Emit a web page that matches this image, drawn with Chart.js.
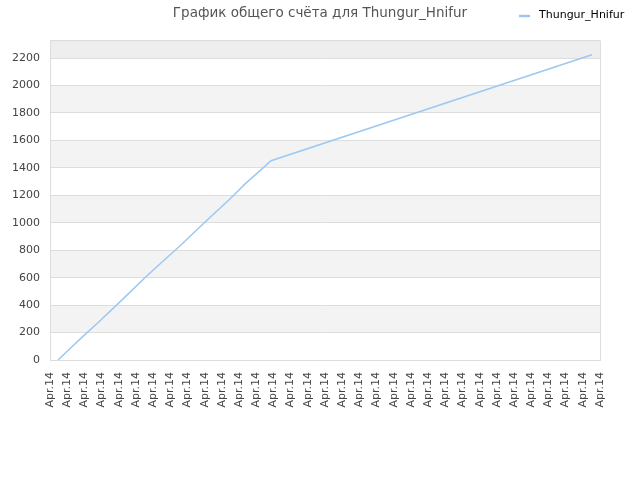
<!DOCTYPE html>
<html>
<head>
<meta charset="utf-8">
<script src="https://cdn.jsdelivr.net/npm/chart.js@4.4.1/dist/chart.umd.min.js"></script>
<style>
html,body{margin:0;padding:0;background:#fff;}
#wrap{width:640px;height:480px;position:relative;}
</style>
</head>
<body>
<div id="wrap"><canvas id="c" width="640" height="480"></canvas></div>
<script>
const titleText = "График общего счёта для Thungur_Hnifur";
const seriesName = "Thungur_Hnifur";
const tickLabel = "Apr.14";
const tickCount = 33;
// position of each sample along the date axis (in tick units) and its score
const samplePos = [0.47, 0.97, 1.90, 2.85, 3.84, 4.69, 5.58, 6.65, 7.62, 8.53, 9.46, 10.47, 11.38, 12.32, 12.86, 31.53];
const scores    = [0,    60,   170,  279,  396,  498,  607,  729,  838,  947,  1056, 1173,  1287,  1391,  1452,  2224];
const yMax = 2330;
const yStep = 200;

const points = samplePos.map((p, i) => ({x: p, y: scores[i]}));

const bandPlugin = {
  id: 'bands',
  beforeDraw(chart) {
    const {ctx, chartArea: a, scales: {y}} = chart;
    const ticks = y.ticks.map(t => t.value);
    ctx.save();
    for (let i = 0; i < ticks.length - 1; i++) {
      if (i % 2 === 1) {
        const top = y.getPixelForValue(ticks[i + 1]);
        const bot = y.getPixelForValue(ticks[i]);
        ctx.fillStyle = (i === ticks.length - 2) ? '#eeeeee' : '#f3f3f3';
        ctx.fillRect(a.left, top, a.right - a.left, bot - top);
      }
    }
    ctx.restore();
  },
  afterDraw(chart) {
    const {ctx, chartArea: a} = chart;
    ctx.save();
    ctx.strokeStyle = '#dddddd';
    ctx.lineWidth = 1;
    ctx.beginPath();
    ctx.moveTo(a.left, a.top + 0.5);
    ctx.lineTo(a.right + 0.5, a.top + 0.5);
    ctx.lineTo(a.right + 0.5, a.bottom);
    ctx.stroke();
    // legend
    ctx.strokeStyle = '#9cc8f3';
    ctx.lineWidth = 2.5;
    ctx.beginPath();
    ctx.moveTo(519, 16);
    ctx.lineTo(530, 16);
    ctx.stroke();
    ctx.fillStyle = '#000';
    ctx.font = '11px "DejaVu Sans"';
    ctx.textBaseline = 'middle';
    ctx.textAlign = 'left';
    ctx.fillText(seriesName, 539, 15);
    ctx.restore();
  }
};

new Chart(document.getElementById('c'), {
  type: 'line',
  data: {
    datasets: [{
      label: seriesName,
      data: points,
      borderColor: '#9cc8f3',
      borderWidth: 1.5,
      pointRadius: 0,
      tension: 0,
      fill: false
    }]
  },
  options: {
    responsive: false,
    animation: false,
    devicePixelRatio: 1,
    layout: {padding: {left: 0, right: 0, top: 0, bottom: 0}},
    plugins: {
      legend: {display: false},
      tooltip: {enabled: false},
      title: {
        display: true,
        text: titleText,
        color: '#555',
        font: {family: 'DejaVu Sans', size: 13.5, weight: 'normal'},
        padding: {top: 5, bottom: 19}
      }
    },
    scales: {
      x: {
        type: 'linear',
        min: 0,
        max: tickCount - 1,
        afterFit(s) { s.height = 120; },
        ticks: {
          stepSize: 1,
          autoSkip: false,
          maxRotation: 90,
          minRotation: 90,
          padding: 12,
          color: '#444',
          font: {family: 'DejaVu Sans', size: 11},
          callback: () => tickLabel
        },
        grid: {display: false, drawTicks: false},
        border: {display: true, color: '#dddddd'}
      },
      y: {
        min: 0,
        max: yMax,
        afterFit(s) { s.width = 50; },
        ticks: {
          stepSize: yStep,
          padding: 10,
          color: '#444',
          font: {family: 'DejaVu Sans', size: 11},
          callback: v => (v % yStep === 0 ? v : '')
        },
        grid: {color: '#dddddd', drawTicks: false},
        border: {display: true, color: '#dddddd'}
      },
      yRight: {
        position: 'right',
        min: 0,
        max: yMax,
        afterFit(s) { s.width = 40; },
        ticks: {display: false},
        grid: {display: false, drawTicks: false},
        border: {display: false}
      }
    }
  },
  plugins: [bandPlugin]
});
</script>
</body>
</html>
